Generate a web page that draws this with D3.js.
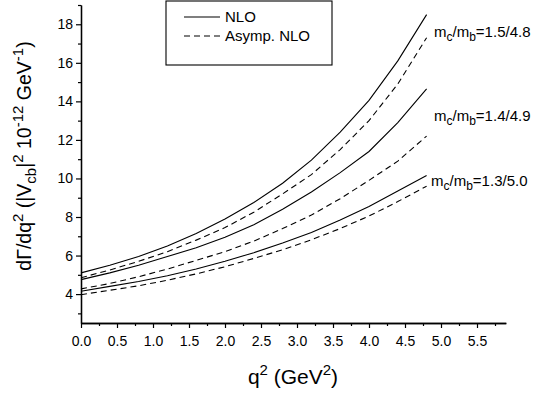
<html>
<head>
<script src="https://d3js.org/d3.v7.min.js"></script>
<style>
  body { margin: 0; background: #fff; }
  svg text { font-family: "Liberation Sans", Arial, sans-serif; fill: #000; }
</style>
</head>
<body>
<svg width="545" height="399"></svg>
<script>
// q^2 sample points (GeV^2)
var q2 = [0, 0.4, 0.8, 1.2, 1.6, 2.0, 2.4, 2.8, 3.2, 3.6, 4.0, 4.4, 4.8];

// dGamma/dq^2 values
var nlo_15_48   = [5.10, 5.50, 5.95, 6.50, 7.15, 7.90, 8.75, 9.75, 10.95, 12.40, 14.05, 16.10, 18.50];
var asymp_15_48 = [4.85, 5.25, 5.70, 6.20, 6.80, 7.45, 8.25, 9.20, 10.20, 11.50, 13.00, 14.90, 17.30];
var nlo_14_49   = [4.75, 5.10, 5.50, 5.95, 6.40, 6.95, 7.60, 8.40, 9.30, 10.30, 11.40, 12.90, 14.65];
var asymp_14_49 = [4.27, 4.55, 4.90, 5.30, 5.75, 6.20, 6.75, 7.40, 8.10, 8.95, 9.90, 10.90, 12.20];
var nlo_13_50   = [4.15, 4.40, 4.65, 4.95, 5.30, 5.70, 6.15, 6.65, 7.20, 7.85, 8.55, 9.35, 10.15];
var asymp_13_50 = [3.97, 4.20, 4.43, 4.72, 5.05, 5.42, 5.85, 6.30, 6.82, 7.40, 8.05, 8.80, 9.60];

var xTicks = [0, 0.5, 1.0, 1.5, 2.0, 2.5, 3.0, 3.5, 4.0, 4.5, 5.0, 5.5];
var yTicks = [4, 6, 8, 10, 12, 14, 16, 18];

var svg = d3.select("svg");
var x = d3.scaleLinear().domain([0, 5.9]).range([81, 505.8]);
var y = d3.scaleLinear().domain([2.5, 19]).range([323, 5]);

// axes
var xAxis = d3.axisBottom(x).tickValues(xTicks).tickFormat(d3.format(".1f")).tickSize(5).tickSizeOuter(0);
var xMinor = d3.axisBottom(x).tickValues(d3.range(0.25, 5.9, 0.5)).tickFormat("").tickSize(3).tickSizeOuter(0);
var yAxis = d3.axisLeft(y).tickValues(yTicks).tickFormat(d3.format("d")).tickSize(5).tickSizeOuter(0);
var yMinor = d3.axisLeft(y).tickValues(d3.range(3, 19.5, 2)).tickFormat("").tickSize(3).tickSizeOuter(0);

function styleAxis(g) {
  g.select(".domain").attr("stroke", "#000").attr("stroke-width", 1.3);
  g.selectAll(".tick line").attr("stroke", "#000").attr("stroke-width", 1.2);
  g.selectAll(".tick text").attr("font-size", 14).attr("font-family", "Liberation Sans, Arial, sans-serif");
}

svg.append("g").attr("transform", "translate(0,323)").call(xMinor).call(styleAxis);
svg.append("g").attr("transform", "translate(0,323)").call(xAxis).call(styleAxis)
  .selectAll(".tick text").attr("dy", "1.05em");
svg.append("g").attr("transform", "translate(81,0)").call(yMinor).call(styleAxis);
svg.append("g").attr("transform", "translate(81,0)").call(yAxis).call(styleAxis)
  .selectAll(".tick text").attr("x", -8);

// curves
var line = d3.line().x(function(d, i) { return x(q2[i]); }).y(function(d) { return y(d); });
var series = [
  { v: nlo_15_48, dash: null },
  { v: asymp_15_48, dash: "6,4" },
  { v: nlo_14_49, dash: null },
  { v: asymp_14_49, dash: "6,4" },
  { v: nlo_13_50, dash: null },
  { v: asymp_13_50, dash: "6,4" }
];
series.forEach(function(s) {
  svg.append("path").datum(s.v).attr("d", line)
    .attr("fill", "none").attr("stroke", "#000").attr("stroke-width", 1.1)
    .attr("stroke-dasharray", s.dash);
});

// curve labels
function massLabel(xp, yp, ratio) {
  var t = svg.append("text").attr("x", xp).attr("y", yp).attr("font-size", 15);
  t.append("tspan").text("m");
  t.append("tspan").attr("font-size", 12).attr("dy", 4).text("c");
  t.append("tspan").attr("dy", -4).text("/m");
  t.append("tspan").attr("font-size", 12).attr("dy", 4).text("b");
  t.append("tspan").attr("dy", -4).text("=" + ratio);
}
massLabel(434, 37, "1.5/4.8");
massLabel(434, 121, "1.4/4.9");
massLabel(431, 186, "1.3/5.0");

// legend
svg.append("rect").attr("x", 166).attr("y", 1).attr("width", 166).attr("height", 64)
  .attr("fill", "none").attr("stroke", "#000").attr("stroke-width", 1.1);
svg.append("line").attr("x1", 184).attr("x2", 220).attr("y1", 17).attr("y2", 17)
  .attr("stroke", "#000").attr("stroke-width", 1.1);
svg.append("line").attr("x1", 184).attr("x2", 220).attr("y1", 36).attr("y2", 36)
  .attr("stroke", "#000").attr("stroke-width", 1.1).attr("stroke-dasharray", "6,4");
svg.append("text").attr("x", 225).attr("y", 22).attr("font-size", 15).text("NLO");
svg.append("text").attr("x", 225).attr("y", 41).attr("font-size", 15).text("Asymp. NLO");

// x title
var xt = svg.append("text").attr("x", 293).attr("y", 384).attr("text-anchor", "middle").attr("font-size", 21);
xt.append("tspan").text("q");
xt.append("tspan").attr("font-size", 15).attr("dy", -9).text("2");
xt.append("tspan").attr("dy", 9).text(" (GeV");
xt.append("tspan").attr("font-size", 15).attr("dy", -9).text("2");
xt.append("tspan").attr("dy", 9).text(")");

// y title
var yt = svg.append("text").attr("transform", "translate(31,156) rotate(-90)")
  .attr("text-anchor", "middle").attr("font-size", 19.5);
yt.append("tspan").text("d\u0393/dq");
yt.append("tspan").attr("font-size", 15).attr("dy", -8).text("2");
yt.append("tspan").attr("dy", 8).text(" (|V");
yt.append("tspan").attr("font-size", 15).attr("dy", 5).text("cb");
yt.append("tspan").attr("dy", -5).text("|");
yt.append("tspan").attr("font-size", 15).attr("dy", -8).text("2");
yt.append("tspan").attr("dy", 8).text(" 10");
yt.append("tspan").attr("font-size", 15).attr("dy", -8).text("-12");
yt.append("tspan").attr("dy", 8).text(" GeV");
yt.append("tspan").attr("font-size", 15).attr("dy", -8).text("-1");
yt.append("tspan").attr("dy", 8).text(")");
</script>
</body>
</html>
